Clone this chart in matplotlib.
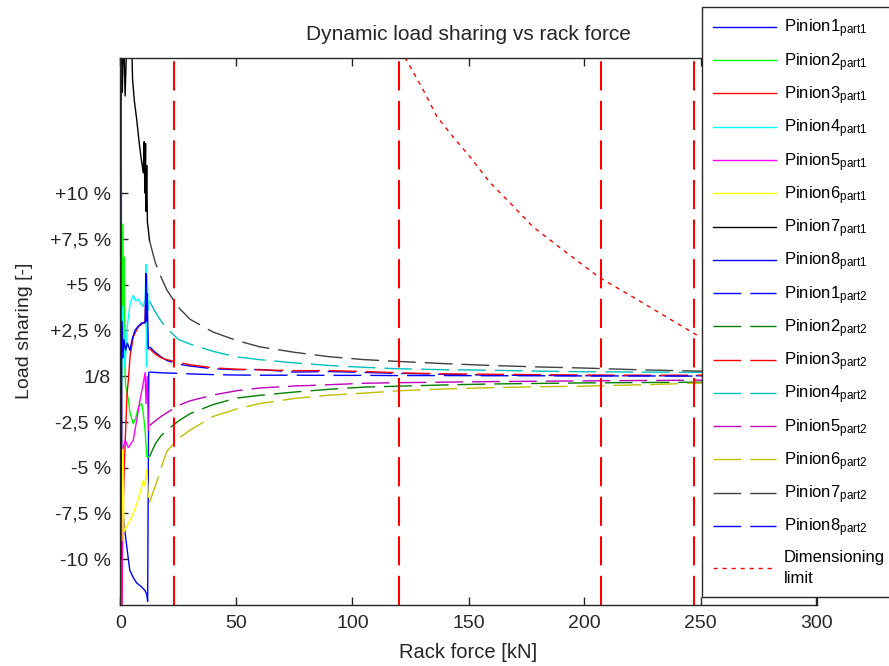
import matplotlib
matplotlib.use('Agg')
import matplotlib.pyplot as plt

plt.rcParams['font.family'] = ['Liberation Sans', 'DejaVu Sans']
plt.rcParams['mathtext.fontset'] = 'custom'
plt.rcParams['mathtext.rm'] = 'Liberation Sans'
plt.rcParams['mathtext.it'] = 'Liberation Sans'

# ---------------- data (load sharing deviation from 1/8, in %) ----------------
# part 1 (low rack force, solid lines)
p1_x_pin1 = [0.1, 0.3, 0.6, 1.2, 2.2, 3.0, 4.0, 5.5, 7.0, 9.0, 10.5, 11.3, 11.7, 12.2]
p1_y_pin1 = [20.0, 16.0, -8.5, -7.6, -8.8, -9.6, -10.6, -11.0, -11.3, -11.5, -11.7, -11.9, -12.3, 0.2]
p1_x_pin2 = [0.4, 1.0, 1.3, 1.6, 1.9, 2.2, 3.4, 4.1, 5.5, 6.5, 7.7, 9.1, 9.8, 10.6, 11.3, 12.0]
p1_y_pin2 = [-1.0, 8.3, 1.0, 6.5, 0.5, -0.5, -1.3, -2.0, -2.6, -2.3, -1.7, -1.5, -2.0, -2.95, -4.4, -4.4]
p1_x_pin3 = [0.2, 0.5, 1.0, 1.6, 2.2, 2.8, 3.4, 4.1, 5.5, 7.7, 9.8, 10.6, 11.0, 11.3, 11.6, 12.0]
p1_y_pin3 = [15.0, -12.6, -8.0, -5.0, -3.0, -1.0, -0.2, 1.05, 2.15, 2.7, 2.9, 3.0, 4.8, 2.3, 2.0, 1.5]
p1_x_pin4 = [0.3, 1.0, 1.9, 3.0, 4.2, 5.5, 6.5, 7.7, 9.0, 9.8, 10.6, 11.0, 11.2, 11.5, 12.0]
p1_y_pin4 = [-1.0, 3.8, 0.5, 2.8, 4.0, 4.4, 4.1, 4.2, 3.9, 3.8, 4.2, 6.1, 0.5, 5.5, 3.6]
p1_x_pin5 = [0.2, 0.5, 1.0, 2.0, 3.4, 5.5, 7.0, 8.4, 9.8, 10.6, 11.0, 11.5, 12.0]
p1_y_pin5 = [-3.1, -12.6, -4.0, -3.5, -3.9, -3.5, -2.4, -1.3, -0.4, 0.2, -1.5, 0.0, -2.95]
p1_x_pin6 = [0.3, 0.6, 1.0, 1.5, 2.7, 4.8, 7.0, 8.4, 9.8, 10.5, 11.3, 12.0]
p1_y_pin6 = [-2.2, -9.0, -4.0, -8.5, -8.2, -7.7, -7.0, -6.4, -5.7, -6.0, -5.1, -6.6]
p1_x_pin7 = [0.3, 0.8, 1.3, 2.0, 2.6, 3.5, 4.5, 5.2, 6.0, 7.0, 8.1, 9.0, 9.8, 10.2,
             10.5, 10.8, 11.0, 11.3, 11.6, 12.0, 12.5]
p1_y_pin7 = [25.0, 15.5, 19.0, 15.3, 18.0, 22.0, 20.0, 16.2, 15.0, 14.0, 12.7, 11.8, 11.1, 12.8,
             10.0, 12.7, 9.0, 11.5, 8.4, 8.0, 7.4]
p1_x_pin8 = [0.2, 0.5, 1.0, 1.5, 2.2, 3.0, 4.1, 5.0, 6.2, 7.5, 9.1, 10.0, 10.6, 11.0, 11.2, 11.5, 12.0]
p1_y_pin8 = [-10.0, 3.0, 1.0, 2.0, 1.4, 1.8, 1.4, 2.0, 2.5, 2.7, 2.9, 2.9, 2.9, 5.6, 3.0, 4.5, 1.5]

# part 2 (higher rack force, dashed lines)
p2_x = [12.5, 15, 17.5, 20, 25, 30, 40, 50, 60, 75, 90, 105, 120, 140, 160, 180, 200, 225, 250, 275, 300]
p2_y_pin1 = [1.6, 1.3, 1.05, 0.85, 0.65, 0.55, 0.4, 0.35, 0.36, 0.22, 0.25, 0.2, 0.15, 0.1, 0.05, 0.04,
             0.02, 0.02, 0.02, 0.01, 0.01]
p2_y_pin2 = [-4.4, -3.7, -3.25, -2.95, -2.45, -2.05, -1.55, -1.2, -1.05, -0.87, -0.72, -0.6, -0.55,
             -0.48, -0.43, -0.4, -0.37, -0.35, -0.33, -0.31, -0.3]
p2_y_pin3 = [1.5, 1.2, 1.0, 0.9, 0.75, 0.62, 0.45, 0.38, 0.34, 0.3, 0.3, 0.25, 0.18, 0.12, 0.1, 0.08,
             0.06, 0.05, 0.05, 0.04, 0.04]
p2_y_pin4 = [4.1, 3.5, 3.0, 2.6, 2.0, 1.75, 1.35, 1.05, 0.9, 0.72, 0.58, 0.48, 0.4, 0.35, 0.32, 0.27,
             0.24, 0.22, 0.2, 0.18, 0.16]
p2_y_pin5 = [-2.7, -2.45, -2.2, -2.0, -1.6, -1.35, -1.03, -0.8, -0.65, -0.54, -0.47, -0.39, -0.36,
             -0.33, -0.3, -0.28, -0.26, -0.24, -0.22, -0.2, -0.19]
p2_y_pin6 = [-6.9, -6.0, -5.0, -4.1, -3.4, -2.95, -2.2, -1.8, -1.5, -1.22, -1.04, -0.93, -0.8, -0.7,
             -0.63, -0.58, -0.55, -0.47, -0.38, -0.34, -0.3]
p2_y_pin7 = [7.4, 6.2, 5.4, 4.7, 3.75, 3.1, 2.4, 1.95, 1.6, 1.3, 1.06, 0.9, 0.8, 0.68, 0.58, 0.5,
             0.44, 0.34, 0.27, 0.22, 0.18]
p2_y_pin8 = [0.22, 0.2, 0.18, 0.17, 0.15, 0.12, 0.08, 0.06, 0.05, 0.05, 0.04, 0.04, 0.03, 0.03, 0.02,
             0.02, 0.01, 0.01, 0.0, 0.0, 0.0]

# dimensioning limit
dim_x = [122.6, 130.4, 136.4, 143.3, 150.6, 159.3, 167.9, 177.8, 190.7, 206.7, 220.9, 233.8, 248.4]
dim_y = [17.4, 15.65, 14.17, 13.07, 11.98, 10.56, 9.46, 8.15, 6.89, 5.36, 4.32, 3.34, 2.24]

# critical rack forces (vertical dashed lines)
crit_x = [23, 120, 207, 247]

ytick_vals = [10, 7.5, 5, 2.5, 0, -2.5, -5, -7.5, -10]
ytick_labels = ['+10 %', '+7,5 %', '+5 %', '+2,5 %', '1/8', '-2,5 %', '-5 %', '-7,5 %', '-10 %']
xtick_vals = [0, 50, 100, 150, 200, 250, 300]

names = ['Pinion1', 'Pinion2', 'Pinion3', 'Pinion4', 'Pinion5', 'Pinion6', 'Pinion7', 'Pinion8']
colors_p1 = ['#0000ff', '#00ff00', '#ff0000', '#00ffff', '#ff00ff', '#ffff00', '#000000', '#0000ff']
colors_p2 = ['#0000ff', '#008000', '#ff0000', '#00bfbf', '#bf00bf', '#bfbf00', '#404040', '#0000ff']

# ---------------- figure ----------------
fig = plt.figure(figsize=(8.89, 6.66), dpi=100)
ax = fig.add_axes([120.5 / 889, 1 - 605 / 666, 696 / 889, 547.5 / 666])

p1_xs = [p1_x_pin1, p1_x_pin2, p1_x_pin3, p1_x_pin4, p1_x_pin5, p1_x_pin6, p1_x_pin7, p1_x_pin8]
p1_ys = [p1_y_pin1, p1_y_pin2, p1_y_pin3, p1_y_pin4, p1_y_pin5, p1_y_pin6, p1_y_pin7, p1_y_pin8]
p2_ys = [p2_y_pin1, p2_y_pin2, p2_y_pin3, p2_y_pin4, p2_y_pin5, p2_y_pin6, p2_y_pin7, p2_y_pin8]

dash = (20, 6.5)
handles = []
labels = []
for i in range(8):
    h, = ax.plot(p1_xs[i], p1_ys[i], color=colors_p1[i], lw=1.0)
    handles.append(h)
    labels.append(names[i] + r'$_{\mathrm{part1}}$')
for i in range(8):
    h, = ax.plot(p2_x, p2_ys[i], color=colors_p2[i], lw=1.0, dashes=dash)
    handles.append(h)
    labels.append(names[i] + r'$_{\mathrm{part2}}$')
h, = ax.plot(dim_x, dim_y, color='#ff0000', lw=1.0, dashes=(3, 3.5))
handles.append(h)
labels.append('Dimensioning\nlimit')

for cx in crit_x:
    ax.axvline(cx, color='#ff0000', lw=1.5, dashes=(14, 5))

ax.set_xlim(0, 300)
ax.set_ylim(-12.5, 17.4)
ax.set_xticks(xtick_vals)
ax.set_yticks(ytick_vals)
ax.set_yticklabels(ytick_labels)
ax.tick_params(direction='in', length=6, width=1, top=True, right=True,
               labelsize=14, colors='#262626', labelcolor='#262626', pad=7)
for s in ax.spines.values():
    s.set_color('#262626')
    s.set_linewidth(1)

ax.set_title('Dynamic load sharing vs rack force', fontsize=15, pad=12.5, color='#262626')
ax.set_xlabel('Rack force [kN]', fontsize=14.5, color='#262626', labelpad=8)
ax.set_ylabel('Load sharing [-]', fontsize=14, color='#262626', labelpad=12)

leg = fig.legend(handles, labels, loc='upper left', bbox_to_anchor=(702 / 889, 1 - 7 / 666),
                 bbox_transform=fig.transFigure, fontsize=12, frameon=True, fancybox=False,
                 edgecolor='#262626', framealpha=1, handlelength=3.8, handletextpad=0.45,
                 labelspacing=0.64, borderpad=0.65, borderaxespad=0)
leg.get_frame().set_linewidth(1.0)
leg.get_texts()[-1].set_linespacing(1.5)
leg.set_zorder(10)

fig.savefig('out.png', dpi=100)
